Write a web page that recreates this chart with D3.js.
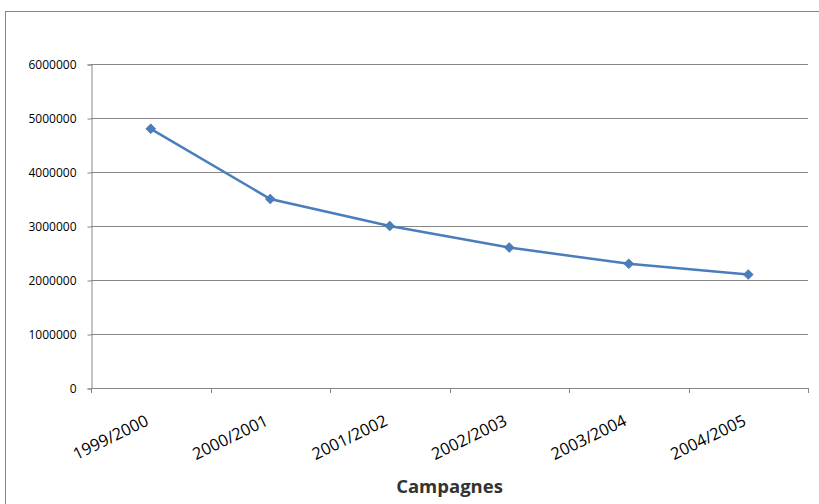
<!DOCTYPE html>
<html>
<head>
<meta charset="utf-8">
<script src="https://cdn.jsdelivr.net/npm/d3@7"></script>
<style>
  body { margin: 0; background: #fff; }
  svg { display: block; font-family: "Open Sans", "Liberation Sans", sans-serif; }
</style>
</head>
<body>
<svg width="819" height="504"></svg>
<script>
const campagnes = ["1999/2000", "2000/2001", "2001/2002", "2002/2003", "2003/2004", "2004/2005"];
const valeurs = [4800000, 3500000, 3000000, 2600000, 2300000, 2100000];
const yTicks = [0, 1000000, 2000000, 3000000, 4000000, 5000000, 6000000];

const data = campagnes.map((c, i) => ({ label: c, value: valeurs[i] }));

let svg = d3.select("svg");

// cadre du graphique
svg.append("rect")
    .attr("x", 5.5).attr("y", 11.5)
    .attr("width", 830).attr("height", 520)
    .style("fill", "none")
    .style("stroke", "#868686")
    .style("stroke-width", 1);

const area = { left: 91, right: 808, top: 64, bottom: 388 };

let scaleX = d3.scaleBand()
    .domain(campagnes)
    .range([area.left, area.right]);

let scaleY = d3.scaleLinear()
    .domain([0, 6000000])
    .range([area.bottom, area.top]);

// lignes de grille
svg.append("g")
    .selectAll("line")
    .data(yTicks.slice(1))
    .enter()
    .append("line")
    .attr("x1", area.left).attr("x2", area.right)
    .attr("y1", d => Math.round(scaleY(d)) + 0.5)
    .attr("y2", d => Math.round(scaleY(d)) + 0.5)
    .style("stroke", "#868686");

// axe Y
let axisY = d3.axisLeft(scaleY).tickValues(yTicks).tickSize(4).tickPadding(11).tickFormat(d3.format("d"));
let gY = svg.append("g")
    .attr("transform", `translate(${area.left + 0.5}, 0.5)`)
    .call(axisY);
gY.select(".domain").style("stroke", "#868686");
gY.selectAll(".tick line").style("stroke", "#868686");
gY.selectAll("text")
    .style("font-family", "'Open Sans', sans-serif")
    .style("font-size", "12px")
    .style("fill", "#000");

// axe X
let axisX = d3.axisBottom(scaleX).tickSize(0).tickFormat(d => d);
let gX = svg.append("g")
    .attr("transform", `translate(0, ${area.bottom + 0.5})`)
    .call(axisX);
gX.select(".domain").attr("d", `M${area.left},0H${area.right}`).style("stroke", "#868686");
gX.selectAll("text")
    .style("font-family", "'Open Sans', sans-serif")
    .style("font-size", "16.5px")
    .style("fill", "#000")
    .style("text-anchor", "end")
    .attr("dy", "0")
    .attr("y", 0)
    .attr("transform", "translate(-1, 36) rotate(-26)");

// graduations aux limites des catégories
const bornes = campagnes.map(c => scaleX(c)).concat([area.right]);
svg.append("g")
    .selectAll("line")
    .data(bornes)
    .enter()
    .append("line")
    .attr("x1", d => Math.round(d) + 0.5).attr("x2", d => Math.round(d) + 0.5)
    .attr("y1", area.bottom).attr("y2", area.bottom + 5)
    .style("stroke", "#868686");

// titre de l'axe
svg.append("text")
    .attr("x", (area.left + area.right) / 2)
    .attr("y", 493)
    .attr("text-anchor", "middle")
    .style("font-size", "18.5px")
    .style("font-weight", "bold")
    .style("fill", "#333")
    .text("Campagnes");

// courbe
const line = d3.line()
    .x(d => scaleX(d.label) + scaleX.bandwidth() / 2)
    .y(d => scaleY(d.value));

svg.append("path")
    .datum(data)
    .attr("d", line)
    .style("fill", "none")
    .style("stroke", "#4a7ebb")
    .style("stroke-width", 2.5);

svg.selectAll(".dot")
    .data(data)
    .enter()
    .append("path")
    .attr("d", d3.symbol().type(d3.symbolDiamond2).size(64))
    .attr("transform", d => `translate(${scaleX(d.label) + scaleX.bandwidth() / 2}, ${scaleY(d.value)})`)
    .style("fill", "#4a7ebb")
    .style("stroke", "#3c6ea8")
    .style("stroke-width", 0.5);
</script>
</body>
</html>
